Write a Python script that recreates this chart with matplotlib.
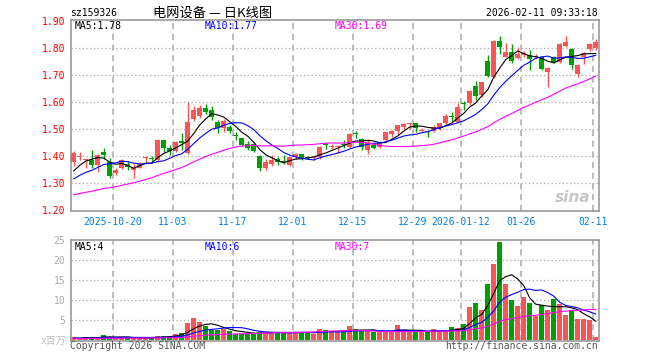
import numpy as np
import matplotlib
matplotlib.use("Agg")
import matplotlib.pyplot as plt

# closes/volumes before the first visible day, estimated from where the MA lines start
prior_close = [1.260, 1.255, 1.250, 1.250, 1.245, 1.242, 1.240,
               1.230, 1.220, 1.210, 1.205, 1.200, 1.200, 1.205, 1.210,
               1.215, 1.220, 1.225, 1.230, 1.238,
               1.270, 1.280, 1.290, 1.300, 1.292,
               1.300, 1.310, 1.330, 1.375]
prior_vol = [0.3, 0.3, 0.3, 0.3, 0.3, 0.3, 0.3, 0.3, 0.3, 0.3,
             0.3, 0.3, 0.3, 0.3, 0.3, 0.3, 0.3, 0.3, 0.3, 0.3,
             0.4, 0.4, 0.4, 0.4, 0.4, 0.4, 0.4, 0.4, 0.4]

opens = [1.380, 1.398, 1.386, 1.385, 1.366, 1.416, 1.380, 1.338, 1.356, 1.372,
         1.348, 1.358, 1.393, 1.395, 1.386, 1.462, 1.430, 1.420, 1.455, 1.412,
         1.537, 1.548, 1.580, 1.572, 1.526, 1.505, 1.507, 1.480, 1.468, 1.447,
         1.447, 1.400, 1.358, 1.372, 1.389, 1.384, 1.368, 1.396, 1.407, 1.396,
         1.392, 1.396, 1.446, 1.434, 1.434, 1.445, 1.436, 1.485, 1.463, 1.424,
         1.442, 1.436, 1.460, 1.481, 1.494, 1.510, 1.521, 1.522, 1.493, 1.494,
         1.492, 1.504, 1.522, 1.549, 1.526, 1.597, 1.598, 1.660, 1.627, 1.752,
         1.694, 1.827, 1.768, 1.785, 1.765, 1.776, 1.777, 1.767, 1.766, 1.712,
         1.766, 1.750, 1.808, 1.797, 1.706, 1.766, 1.796, 1.801]
highs = [1.420, 1.415, 1.390, 1.422, 1.407, 1.432, 1.395, 1.355, 1.390, 1.383,
         1.370, 1.378, 1.400, 1.400, 1.463, 1.462, 1.443, 1.455, 1.486, 1.600,
         1.588, 1.590, 1.595, 1.588, 1.535, 1.537, 1.517, 1.490, 1.468, 1.455,
         1.453, 1.403, 1.388, 1.405, 1.398, 1.405, 1.398, 1.412, 1.409, 1.401,
         1.401, 1.437, 1.453, 1.447, 1.441, 1.460, 1.486, 1.494, 1.467, 1.464,
         1.448, 1.457, 1.489, 1.497, 1.514, 1.522, 1.526, 1.523, 1.504, 1.498,
         1.516, 1.522, 1.556, 1.565, 1.596, 1.603, 1.646, 1.680, 1.676, 1.777,
         1.830, 1.846, 1.821, 1.817, 1.805, 1.790, 1.792, 1.778, 1.770, 1.730,
         1.771, 1.818, 1.846, 1.800, 1.742, 1.785, 1.820, 1.833]
lows = [1.365, 1.385, 1.355, 1.355, 1.340, 1.390, 1.320, 1.332, 1.352, 1.350,
        1.318, 1.355, 1.376, 1.383, 1.380, 1.415, 1.405, 1.416, 1.422, 1.408,
        1.530, 1.543, 1.555, 1.535, 1.486, 1.490, 1.486, 1.462, 1.438, 1.422,
        1.416, 1.345, 1.350, 1.365, 1.367, 1.372, 1.362, 1.390, 1.385, 1.388,
        1.386, 1.391, 1.427, 1.425, 1.412, 1.430, 1.430, 1.467, 1.424, 1.407,
        1.427, 1.430, 1.454, 1.473, 1.479, 1.501, 1.502, 1.490, 1.488, 1.473,
        1.489, 1.497, 1.516, 1.530, 1.522, 1.572, 1.590, 1.609, 1.620, 1.695,
        1.690, 1.780, 1.766, 1.744, 1.762, 1.768, 1.720, 1.760, 1.718, 1.658,
        1.745, 1.745, 1.804, 1.722, 1.692, 1.742, 1.790, 1.795]
closes = [1.413, 1.402, 1.389, 1.367, 1.405, 1.403, 1.325, 1.350, 1.386, 1.361,
          1.356, 1.372, 1.397, 1.388, 1.462, 1.432, 1.420, 1.452, 1.450, 1.528,
          1.570, 1.578, 1.565, 1.547, 1.505, 1.532, 1.492, 1.476, 1.442, 1.430,
          1.421, 1.356, 1.378, 1.387, 1.377, 1.379, 1.397, 1.408, 1.392, 1.393,
          1.396, 1.436, 1.443, 1.438, 1.438, 1.441, 1.483, 1.482, 1.436, 1.452,
          1.430, 1.448, 1.488, 1.495, 1.514, 1.520, 1.524, 1.504, 1.496, 1.490,
          1.507, 1.522, 1.550, 1.545, 1.584, 1.592, 1.640, 1.625, 1.676, 1.696,
          1.829, 1.805, 1.785, 1.752, 1.780, 1.782, 1.760, 1.771, 1.723, 1.726,
          1.750, 1.815, 1.822, 1.738, 1.740, 1.784, 1.817, 1.825]
# volume in millions
volumes = [0.75, 0.5, 0.7, 0.5, 0.6, 1.3, 0.8, 0.5, 0.6, 0.6,
           0.5, 0.5, 0.5, 0.5, 1.1, 1.0, 1.0, 1.5, 1.8, 4.3,
           5.5, 4.4, 3.5, 2.5, 2.5, 2.8, 2.3, 1.5, 1.5, 1.5,
           1.7, 2.0, 1.9, 1.9, 1.9, 1.9, 1.9, 1.9, 1.9, 1.9,
           1.5, 2.8, 2.5, 2.0, 2.1, 1.9, 3.5, 2.7, 2.2, 2.2,
           2.1, 2.1, 2.1, 2.1, 3.7, 2.2, 2.2, 1.9, 2.1, 1.9,
           2.8, 2.1, 2.1, 3.3, 2.9, 4.0, 8.3, 9.3, 7.5, 14.0,
           19.0, 24.6, 14.0, 10.0, 8.6, 10.8, 9.3, 6.1, 8.7, 7.5,
           10.2, 9.0, 6.2, 7.3, 5.2, 5.2, 5.0, 0.8]

tick_idx = [7, 17, 27, 37, 47, 57, 65, 75, 87]
tick_labels = ["2025-10-20", "11-03", "11-17", "12-01", "12-15",
               "12-29", "2026-01-12", "01-26", "02-11"]
price_ticks = [1.20, 1.30, 1.40, 1.50, 1.60, 1.70, 1.80, 1.90]
vol_ticks = [5, 10, 15, 20, 25]

RED = "#f85656"
GREEN = "#00a000"
GRID = "#aaaaaa"
MONO = "DejaVu Sans Mono"
CJK = ["Noto Sans CJK SC", "DejaVu Sans"]


def moving_avg(values, prior, n):
    full = np.array(prior + values, dtype=float)
    out = np.convolve(full, np.ones(n) / n, mode="valid")
    return out[-len(values):]


def trunc(v, d):
    return np.floor(v * 10 ** d) / 10 ** d


def style_axes(ax):
    for sp in ax.spines.values():
        sp.set_color("#999999")
        sp.set_linewidth(1.2)
    ax.tick_params(length=0)
    for t in tick_idx:
        ax.axvline(t - 0.5, color=GRID, lw=1.1, ls=(0, (4, 3)), zorder=0)
    ax.set_xlim(-0.5, len(closes) - 0.5)


def main():
    x = np.arange(len(closes))
    o = np.array(opens)
    c = np.array(closes)
    colors = [RED if cc >= oo else GREEN for oo, cc in zip(o, c)]

    ma5 = moving_avg(closes, prior_close, 5)
    ma10 = moving_avg(closes, prior_close, 10)
    ma30 = moving_avg(closes, prior_close, 30)
    vma5 = moving_avg(volumes, prior_vol, 5)
    vma10 = moving_avg(volumes, prior_vol, 10)
    vma30 = moving_avg(volumes, prior_vol, 30)

    fig = plt.figure(figsize=(6.6, 3.6), dpi=100)
    ax = fig.add_axes([70.7 / 660, 1 - 211 / 360, 528 / 660, 191 / 360])
    axv = fig.add_axes([70.7 / 660, 1 - 341 / 360, 528 / 660, 101 / 360])

    # price panel
    style_axes(ax)
    for p in price_ticks[1:-1]:
        ax.axhline(p, color=GRID, lw=0.9, ls=(0, (1, 2)), zorder=0)
    ax.vlines(x, lows, highs, colors=colors, lw=1, zorder=2)
    ax.bar(x, np.maximum(np.abs(c - o), 0.002), bottom=np.minimum(o, c),
           width=0.8, color=colors, linewidth=0, zorder=3)
    ax.plot(x, ma5, color="black", lw=0.8, zorder=4)
    ax.plot(x, ma10, color="#0000ff", lw=0.8, zorder=4)
    ax.plot(x, ma30, color="#ff00ff", lw=0.8, zorder=4)
    ax.set_ylim(1.197, 1.905)
    ax.set_yticks(price_ticks)
    ax.set_yticklabels([f"{p:.2f}" for p in price_ticks], color="red",
                       family=MONO, fontsize=7)
    ax.set_xticks([t - 0.5 for t in tick_idx])
    ax.set_xticklabels(tick_labels, color="#0080e0", family=MONO, fontsize=7)
    ax.tick_params(axis="y", pad=4)
    ax.tick_params(axis="x", pad=4)
    ax.text(0.985, 0.07, "sina", transform=ax.transAxes, ha="right",
            va="center", fontsize=11, fontweight="bold", style="italic",
            color="#b8b8b8", alpha=0.8)

    # volume panel
    style_axes(axv)
    for v in vol_ticks[:-1]:
        axv.axhline(v, color=GRID, lw=0.9, ls=(0, (1, 2)), zorder=0)
    axv.bar(x, volumes, width=0.85, color=colors, linewidth=0, zorder=2)
    axv.plot(x, vma5, color="black", lw=0.8, zorder=4)
    axv.plot(x, vma10, color="#0000ff", lw=0.8, zorder=4)
    axv.plot(x, vma30, color="#ff00ff", lw=0.8, zorder=4)
    axv.set_ylim(-0.25, 25)
    axv.set_yticks(vol_ticks)
    axv.set_yticklabels([str(v) for v in vol_ticks], color="#aaaaaa",
                        family=MONO, fontsize=7)
    axv.tick_params(axis="y", pad=4)
    axv.set_xticks([])

    # header texts
    fig.text(70 / 660, 1 - 13 / 360, "sz159326", family=MONO, fontsize=7,
             va="center", ha="left")
    fig.text(213 / 660, 1 - 13 / 360, "电网设备 — 日K线图", family=CJK,
             fontsize=9.5, va="center", ha="center")
    fig.text(598 / 660, 1 - 13 / 360, "2026-02-11 09:33:18", family=MONO,
             fontsize=7, va="center", ha="right")

    # MA legends
    py = 1 - 26 / 360
    vy = 1 - 247 / 360
    fig.text(75 / 660, py, f"MA5:{trunc(ma5[-1], 2):.2f}", family=MONO,
             fontsize=7, va="center", color="black")
    fig.text(205 / 660, py, f"MA10:{trunc(ma10[-1], 2):.2f}", family=MONO,
             fontsize=7, va="center", color="#0000ff")
    fig.text(335 / 660, py, f"MA30:{trunc(ma30[-1], 2):.2f}", family=MONO,
             fontsize=7, va="center", color="#ff00ff")
    fig.text(75 / 660, vy, f"MA5:{int(vma5[-1])}", family=MONO,
             fontsize=7, va="center", color="black")
    fig.text(205 / 660, vy, f"MA10:{int(vma10[-1])}", family=MONO,
             fontsize=7, va="center", color="#0000ff")
    fig.text(335 / 660, vy, f"MA30:{int(vma30[-1])}", family=MONO,
             fontsize=7, va="center", color="#ff00ff")

    # footer
    fig.text(66 / 660, 1 - 341 / 360, "x百万", family=[MONO, "Noto Sans CJK SC"],
             fontsize=7, va="center", ha="right", color="#bbbbbb")
    fig.text(70 / 660, 1 - 346 / 360, "Copyright 2026 SINA.COM", family=MONO,
             fontsize=7, va="center", ha="left", color="#555555")
    fig.text(598 / 660, 1 - 346 / 360, "http://finance.sina.com.cn",
             family=MONO, fontsize=7, va="center", ha="right", color="#555555")

    fig.savefig("out.png", dpi=100)
    plt.close(fig)


if __name__ == "__main__":
    main()
